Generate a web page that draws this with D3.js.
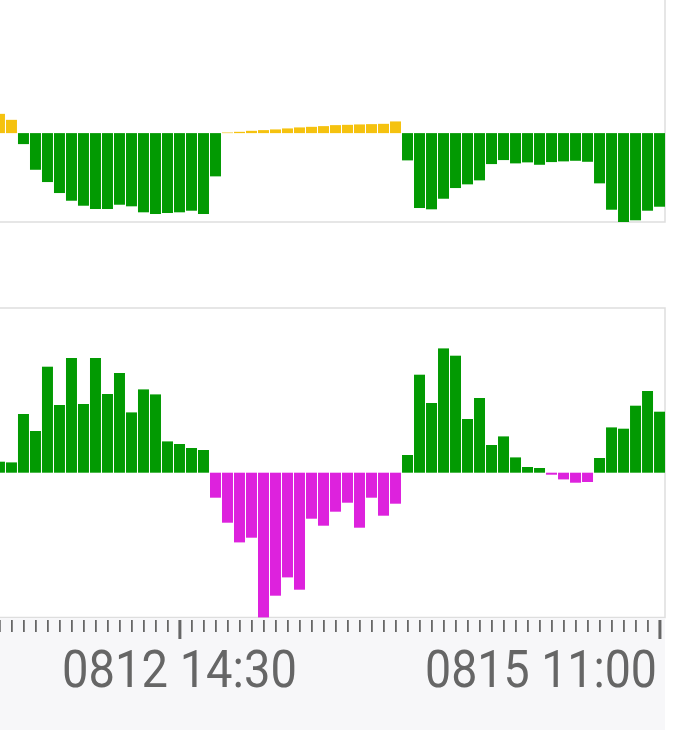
<!DOCTYPE html>
<html>
<head>
<meta charset="utf-8">
<script src="https://cdn.jsdelivr.net/npm/d3@7"></script>
<style>
  html, body { margin: 0; padding: 0; background: #ffffff; }
  svg { display: block; }
</style>
</head>
<body>
<svg id="chart" width="678" height="730"></svg>
<script>
// ---- data ----
const slots = d3.range(56); // time slots, one bar each
const topValues = [
  19.3, 13.3, -11, -36.7, -49, -60, -67.7, -72.7, -76, -76,
  -71.7, -73.3, -79.3, -81, -80, -79.3, -77.7, -81, -43.3, 0.6,
  1.3, 2.3, 3, 3.7, 4.7, 5.7, 6.3, 7, 8, 8.3,
  8.7, 9, 9.3, 11.7, -27.3, -75, -76.3, -65.7, -55, -51.3,
  -47.3, -31, -27, -30.3, -29.3, -31.7, -29, -28.3, -27.7, -28.7,
  -50.3, -76.7, -89, -87.3, -77.7, -73.7
];
const bottomValues = [
  11, 10.3, 58.7, 41.7, 106, 67.7, 114.7, 68.7, 114.7, 78.7,
  99.7, 60.3, 83.3, 78.3, 31.3, 28.7, 24.7, 22.7, -25, -50,
  -69.7, -65, -144.7, -123, -104.7, -117, -46, -53, -39, -30,
  -55, -25, -43, -31, 17.7, 98, 69.7, 124.3, 117, 53.7,
  74.7, 27.7, 36.3, 15.3, 5.7, 4.7, -2, -6.7, -10, -9.3,
  14.7, 45.3, 44, 67, 81.7, 61
];
const majorTickSlots = [15, 55];
const tickLabels = ["0812 14:30", "0815 11:00"];

// ---- colours ----
const cYellow = "#f5c20f";
const cGreen = "#029a02";
const cMagenta = "#dd22dd";
const cBorder = "#dedede";
const cAxisBg = "#f7f7f9";
const cText = "#666666";

const svg = d3.select("#chart");

const x = d3.scaleBand()
  .domain(slots)
  .range([-6.5, 665.5])
  .paddingInner(0.085)
  .paddingOuter(0.04);

const yTop = d3.scaleLinear().domain([-89, 133.3]).range([222, 0]);
const yBot = d3.scaleLinear().domain([-144.8, 164.7]).range([617.5, 308]);

// panels
svg.append("rect").attr("x", -10).attr("y", -10).attr("width", 675).attr("height", 232)
  .attr("fill", "#fff").attr("stroke", cBorder).attr("stroke-width", 1.5);
svg.append("rect").attr("x", -10).attr("y", 308).attr("width", 675).attr("height", 309.5)
  .attr("fill", "#fff").attr("stroke", cBorder).attr("stroke-width", 1.5);

// top bars
svg.append("g").selectAll("rect").data(topValues).join("rect")
  .attr("x", (d, i) => x(slots[i]))
  .attr("width", x.bandwidth())
  .attr("y", d => Math.min(yTop(d), yTop(0)))
  .attr("height", d => Math.max(0.6, Math.abs(yTop(d) - yTop(0))))
  .attr("fill", d => d >= 0 ? cYellow : cGreen);

// bottom bars
svg.append("g").selectAll("rect").data(bottomValues).join("rect")
  .attr("x", (d, i) => x(slots[i]))
  .attr("width", x.bandwidth())
  .attr("y", d => Math.min(yBot(d), yBot(0)))
  .attr("height", d => Math.max(0.6, Math.abs(yBot(d) - yBot(0))))
  .attr("fill", d => d >= 0 ? cGreen : cMagenta);

// axis area
svg.append("rect").attr("x", 0).attr("y", 618).attr("width", 665).attr("height", 112)
  .attr("fill", cAxisBg);

const center = s => x(s) + x.bandwidth() / 2 + 0.4;

svg.append("g").selectAll("line").data(slots).join("line")
  .attr("x1", center).attr("x2", center)
  .attr("y1", 620)
  .attr("y2", s => majorTickSlots.includes(s) ? 639 : 632)
  .attr("stroke", cText)
  .attr("stroke-width", s => majorTickSlots.includes(s) ? 3 : 1.8);

// tick labels
svg.append("text").attr("x", 62).attr("y", 687)
  .attr("font-family", "Roboto, 'Noto Sans', sans-serif")
  .attr("font-size", 51).attr("fill", cText)
  .attr("textLength", 235).attr("lengthAdjust", "spacingAndGlyphs")
  .text(tickLabels[0]);
svg.append("text").attr("x", 425).attr("y", 687)
  .attr("font-family", "Roboto, 'Noto Sans', sans-serif")
  .attr("font-size", 51).attr("fill", cText)
  .attr("textLength", 232).attr("lengthAdjust", "spacingAndGlyphs")
  .text(tickLabels[1]);
</script>
</body>
</html>
